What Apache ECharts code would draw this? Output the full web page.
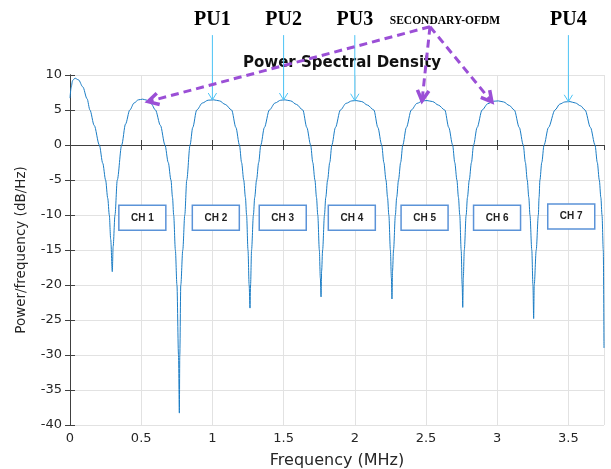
<!DOCTYPE html>
<html>
<head>
<meta charset="utf-8">
<script src="https://cdn.jsdelivr.net/npm/echarts@6/dist/echarts.min.js"></script>
<style>
  html, body { margin: 0; padding: 0; background: #fff; }
  #chart { width: 611px; height: 469px; }
</style>
</head>
<body>
<div id="chart"></div>
<script>
// PSD curve: [MHz, dB/Hz]
const lobe1 = [[0, 6.7], [0.008, 8.2], [0.018, 9.2], [0.035, 9.55], [0.06, 9.3], [0.09, 8.3], [0.12, 6.6],
  [0.14, 5.0], [0.17, 2.8], [0.206, 0], [0.23, -2.6], [0.25, -5], [0.265, -7.6], [0.276, -10],
  [0.286, -13.5], [0.297, -18.1]];
const lobe2 = [[0.303, -14.5], [0.316, -10], [0.332, -5], [0.363, 0], [0.39, 3], [0.42, 5], [0.45, 6.0],
  [0.48, 6.45], [0.51, 6.55], [0.54, 6.4], [0.57, 5.9], [0.60, 5.0], [0.635, 2.8], [0.667, 0],
  [0.69, -2.5], [0.709, -5], [0.72, -7.5], [0.728, -10], [0.74, -15], [0.751, -20], [0.762, -30],
  [0.768, -38.3]];
const lobe3 = [[0.771, -30], [0.778, -20], [0.792, -15], [0.806, -10], [0.82, -5], [0.843, 0],
  [0.862, 2.5], [0.89, 5], [0.93, 6.0], [0.97, 6.4], [1.01, 6.45], [1.05, 6.3], [1.09, 5.8],
  [1.135, 5], [1.165, 2.5], [1.19, 0], [1.205, -2.5], [1.22, -5], [1.232, -7.5], [1.24, -10],
  [1.25, -15], [1.258, -20], [1.264, -23.3]];
const lobe4 = [[1.268, -20], [1.275, -15], [1.288, -10], [1.297, -7.5], [1.31, -5], [1.325, -2.5],
  [1.34, 0], [1.365, 2.5], [1.40, 5], [1.44, 6.0], [1.48, 6.4], [1.51, 6.45], [1.55, 6.3],
  [1.59, 5.8], [1.635, 5], [1.663, 2.5], [1.69, 0], [1.705, -2.5], [1.72, -5], [1.731, -7.5],
  [1.74, -10], [1.751, -15], [1.758, -19], [1.763, -21.7]];
const lobe5 = [[1.767, -18], [1.774, -15], [1.787, -10], [1.796, -7.5], [1.809, -5], [1.824, -2.5],
  [1.839, 0], [1.864, 2.5], [1.899, 5], [1.939, 5.95], [1.979, 6.3], [2.009, 6.35], [2.049, 6.2],
  [2.089, 5.7], [2.134, 5], [2.162, 2.5], [2.189, 0], [2.204, -2.5], [2.219, -5], [2.23, -7.5],
  [2.239, -10], [2.25, -15], [2.257, -19], [2.261, -22]];
const lobe6 = [[2.265, -18], [2.272, -15], [2.285, -10], [2.294, -7.5], [2.307, -5], [2.322, -2.5],
  [2.337, 0], [2.362, 2.5], [2.397, 5], [2.437, 5.95], [2.477, 6.3], [2.507, 6.35], [2.547, 6.2],
  [2.587, 5.7], [2.632, 5], [2.66, 2.5], [2.687, 0], [2.702, -2.5], [2.717, -5], [2.728, -7.5],
  [2.737, -10], [2.747, -15], [2.754, -20], [2.758, -23.2]];
const lobe7 = [[2.762, -19], [2.769, -15], [2.782, -10], [2.791, -7.5], [2.804, -5], [2.819, -2.5],
  [2.834, 0], [2.859, 2.5], [2.894, 5], [2.934, 5.9], [2.974, 6.25], [3.008, 6.3], [3.045, 6.15],
  [3.085, 5.65], [3.12, 5], [3.155, 2.5], [3.183, 0], [3.198, -2.5], [3.211, -5], [3.222, -7.5],
  [3.23, -10], [3.243, -15], [3.251, -20], [3.256, -24.8]];
const lobe8 = [[3.26, -20], [3.274, -15], [3.289, -10], [3.294, -7.5], [3.30, -5], [3.313, -2.5],
  [3.329, 0], [3.36, 2.5], [3.406, 5], [3.44, 5.85], [3.475, 6.15], [3.511, 6.2], [3.55, 6.0],
  [3.585, 5.6], [3.617, 5], [3.655, 2.5], [3.687, 0], [3.703, -2.5], [3.717, -5], [3.728, -7.5],
  [3.736, -10], [3.745, -15], [3.75, -29]];

const xTicks = [0, 0.5, 1, 1.5, 2, 2.5, 3, 3.5];

// annotations (data coords)
const puNames = ['PU1', 'PU2', 'PU3', 'PU4'];
const puFreqs = [1.0, 1.5, 2.0, 3.5];
const puTips = [6.45, 6.45, 6.35, 6.2];
const chNames = ['CH 1', 'CH 2', 'CH 3', 'CH 4', 'CH 5', 'CH 6', 'CH 7'];
const chFreqs = [0.508, 1.024, 1.494, 1.979, 2.49, 2.999, 3.52];
const chLevels = [-10.4, -10.4, -10.4, -10.4, -10.4, -10.4, -10.2];
const secondarySource = [2.528, 16.9];
const secondaryLabelAt = [2.633, 17.7];
const secondaryTips = [[0.548, 6.2], [2.472, 6.3], [2.963, 6.15]];

const psd = [].concat(lobe1, lobe2, lobe3, lobe4, lobe5, lobe6, lobe7, lobe8);

const axisColor = '#404040';
const gridColor = '#e2e2e2';
const font = 'DejaVu Sans';

let chart = echarts.init(document.getElementById('chart'));

const option = {
    animation: false,
    title: {
        text: 'Power Spectral Density',
        left: 337,
        top: 51,
        textAlign: 'center',
        textStyle: { fontFamily: font, fontWeight: 'bold', fontSize: 15, color: '#111' }
    },
    grid: { left: 70, right: 7, top: 75, bottom: 44, show: false, outerBoundsMode: 'none' },
    xAxis: [{
        type: 'value', min: 0, max: 3.75, interval: 0.5,
        name: 'Frequency (MHz)', nameLocation: 'middle', nameGap: 28,
        nameTextStyle: { fontFamily: font, fontSize: 16, color: '#262626' },
        axisLine: { show: true, lineStyle: { color: axisColor, width: 1 } },
        axisTick: { show: true, inside: true, length: 5, lineStyle: { color: axisColor } },
        axisLabel: {
            showMaxLabel: false, margin: 7, fontFamily: font, fontSize: 13, color: '#262626',
            formatter: v => (xTicks.indexOf(v) >= 0 ? String(v) : '')
        },
        splitLine: { show: true, lineStyle: { color: gridColor } }
    }, {
        type: 'value', min: 0, max: 3.75, interval: 0.5, position: 'top',
        axisLine: { show: true, lineStyle: { color: axisColor, width: 1 } },
        axisTick: { show: true, inside: true, length: 5, lineStyle: { color: axisColor } },
        axisLabel: { show: false }, splitLine: { show: false }
    }],
    yAxis: [{
        type: 'value', min: -40, max: 10, interval: 5,
        name: 'Power/frequency (dB/Hz)', nameLocation: 'middle', nameGap: 42,
        nameTextStyle: { fontFamily: font, fontSize: 13.5, color: '#262626' },
        axisLine: { show: true, lineStyle: { color: axisColor, width: 1 } },
        axisTick: { show: true, inside: true, length: 5, lineStyle: { color: axisColor } },
        axisLabel: { margin: 8, fontFamily: font, fontSize: 13, color: '#262626' },
        splitLine: { show: true, lineStyle: { color: gridColor } }
    }, {
        type: 'value', min: -40, max: 10, interval: 5, position: 'right',
        axisLine: { show: true, lineStyle: { color: axisColor, width: 1 } },
        axisTick: { show: true, inside: true, length: 5, lineStyle: { color: axisColor } },
        axisLabel: { show: false }, splitLine: { show: false }
    }],
    series: [{
        type: 'line',
        data: psd,
        showSymbol: false,
        smooth: 0.3,
        smoothMonotone: 'x',
        lineStyle: { color: '#1a7cc4', width: 1 },
        z: 3
    }]
};

chart.setOption(option);

function toPx(p) {
    return chart.convertToPixel({ xAxisIndex: 0, yAxisIndex: 0 }, p);
}

// open chevron at tip, pointing away from "from"
function chevron(tip, from, len, half) {
    const a = Math.atan2(from[1] - tip[1], from[0] - tip[0]);
    return [
        [tip[0] + len * Math.cos(a - half), tip[1] + len * Math.sin(a - half)],
        tip,
        [tip[0] + len * Math.cos(a + half), tip[1] + len * Math.sin(a + half)]
    ];
}

function buildGraphics() {
    const g = [];
    const puColor = '#4cc3f5';
    puFreqs.forEach((f, i) => {
        const top = toPx([f, 15.7]);
        const tip = toPx([f, puTips[i]]);
        const lbl = toPx([f, 17.85]);
        g.push({ type: 'line', z: 10, shape: { x1: top[0], y1: top[1], x2: tip[0], y2: tip[1] },
            style: { stroke: puColor, lineWidth: 1 } });
        g.push({ type: 'polyline', z: 10, shape: { points: chevron(tip, top, 8, 0.55) },
            style: { stroke: puColor, lineWidth: 1, fill: null } });
        g.push({ type: 'text', z: 10, x: lbl[0], y: lbl[1],
            style: { text: puNames[i], font: 'bold 20px "Liberation Serif", "Times New Roman", serif',
                fill: '#000', align: 'center', verticalAlign: 'middle' } });
    });

    const lab = toPx(secondaryLabelAt);
    g.push({ type: 'text', z: 10, x: lab[0], y: lab[1],
        style: { text: 'SECONDARY-OFDM', font: 'bold 11.5px "Liberation Serif", "Times New Roman", serif',
            fill: '#000', align: 'center', verticalAlign: 'middle' } });

    const purple = '#9b4fd6';
    const src = toPx(secondarySource);
    secondaryTips.forEach(t => {
        const tip = toPx(t);
        g.push({ type: 'line', z: 11, shape: { x1: src[0], y1: src[1], x2: tip[0], y2: tip[1] },
            style: { stroke: purple, lineWidth: 3, lineDash: [8, 5] } });
        g.push({ type: 'polyline', z: 11, shape: { points: chevron(tip, src, 12, 0.5) },
            style: { stroke: purple, lineWidth: 3.5, fill: null, lineJoin: 'miter' } });
    });

    chFreqs.forEach((f, i) => {
        const c = toPx([f, chLevels[i]]);
        g.push({ type: 'rect', z: 9, shape: { x: c[0] - 23.5, y: c[1] - 12.5, width: 47, height: 25 },
            style: { fill: '#fff', stroke: '#5b93d8', lineWidth: 1.5 } });
        g.push({ type: 'text', z: 10, x: c[0], y: c[1],
            style: { text: chNames[i], font: 'bold 10px "Liberation Sans Narrow", "Liberation Sans", sans-serif',
                fill: '#222', align: 'center', verticalAlign: 'middle' } });
    });
    return g;
}

chart.setOption({ graphic: buildGraphics() });
</script>
</body>
</html>
